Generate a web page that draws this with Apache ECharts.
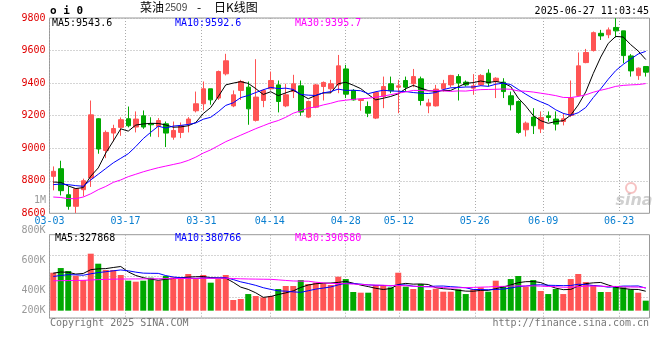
<!DOCTYPE html>
<html><head><meta charset="utf-8">
<script src="https://cdn.jsdelivr.net/npm/echarts@6/dist/echarts.min.js"></script>
<style>html,body{margin:0;padding:0;background:#fff}#c{width:660px;height:360px}</style>
</head><body><div id="c"></div>
<script>
const dates=['03-03','03-04','03-05','03-06','03-07','03-10','03-11','03-12','03-13','03-14','03-17','03-18','03-19','03-20','03-21','03-24','03-25','03-26','03-27','03-28','03-31','04-01','04-02','04-03','04-07','04-08','04-09','04-10','04-11','04-14','04-15','04-16','04-17','04-18','04-21','04-22','04-23','04-24','04-25','04-28','04-29','04-30','05-06','05-07','05-08','05-09','05-12','05-13','05-14','05-15','05-16','05-19','05-20','05-21','05-22','05-23','05-26','05-27','05-28','05-29','05-30','06-03','06-04','06-05','06-06','06-09','06-10','06-11','06-12','06-13','06-16','06-17','06-18','06-19','06-20','06-23','06-24','06-25','06-26','06-27'];
const dateLabels=['03-03','03-17','03-31','04-14','04-28','05-12','05-26','06-09','06-23'];

const opens=[8827,8874,8714,8643,8745,8817,9181,8986,9093,9128,9181,9130,9199,9150,9134,9150,9068,9097,9150,9230,9273,9365,9308,9457,9260,9355,9375,9171,9293,9365,9389,9260,9348,9383,9191,9252,9379,9365,9389,9487,9355,9293,9256,9185,9318,9396,9375,9416,9396,9426,9260,9260,9365,9389,9440,9406,9369,9389,9461,9410,9406,9322,9287,9113,9191,9119,9199,9179,9164,9201,9324,9526,9600,9706,9697,9742,9721,9567,9446,9502];
const closes=[8858,8739,8643,8751,8800,9205,8995,9097,9121,9175,9138,9179,9130,9144,9170,9093,9109,9138,9179,9273,9365,9297,9471,9537,9328,9410,9242,9314,9355,9416,9287,9328,9396,9222,9287,9389,9404,9396,9506,9332,9297,9300,9215,9342,9379,9353,9383,9375,9440,9293,9278,9363,9396,9447,9400,9389,9383,9447,9400,9430,9348,9267,9097,9154,9138,9189,9189,9148,9181,9308,9506,9588,9710,9690,9727,9721,9569,9475,9492,9467];
const highs=[8888,8923,8766,8755,8813,9293,9185,9109,9144,9189,9256,9226,9232,9190,9185,9164,9164,9158,9191,9348,9410,9365,9477,9580,9355,9420,9410,9547,9363,9471,9416,9396,9451,9416,9293,9396,9410,9420,9573,9512,9363,9305,9287,9348,9440,9440,9420,9440,9487,9440,9303,9389,9420,9451,9455,9416,9455,9455,9485,9436,9430,9348,9293,9164,9246,9226,9226,9226,9215,9416,9588,9610,9717,9727,9742,9799,9721,9578,9496,9502];
const lows=[8741,8710,8622,8602,8704,8762,8966,8939,9042,9076,9128,9097,9119,9071,9068,9007,9052,9062,9097,9220,9232,9267,9297,9447,9252,9297,9144,9164,9252,9359,9220,9252,9308,9199,9185,9246,9293,9338,9338,9308,9293,9230,9191,9179,9246,9338,9215,9348,9375,9263,9215,9256,9348,9375,9293,9379,9328,9383,9379,9308,9308,9232,9089,9072,9087,9093,9164,9109,9140,9191,9318,9522,9594,9665,9676,9680,9522,9440,9420,9440];

const ma5=[8792,8790,8768,8752,8758,8828,8879,8970,9044,9119,9105,9142,9149,9153,9152,9143,9129,9131,9138,9158,9213,9250,9317,9389,9400,9409,9398,9366,9330,9347,9323,9340,9356,9330,9304,9324,9340,9340,9396,9405,9387,9366,9330,9297,9307,9318,9334,9366,9386,9369,9354,9350,9354,9355,9377,9399,9403,9413,9404,9410,9402,9378,9308,9259,9201,9169,9153,9164,9169,9203,9266,9346,9459,9560,9644,9687,9683,9636,9597,9545];
const ma10=[8776,8780,8776,8770,8766,8805,8840,8875,8910,8938,8966,9010,9059,9098,9135,9124,9136,9140,9146,9155,9178,9190,9224,9263,9279,9311,9324,9342,9359,9374,9366,9369,9361,9330,9326,9324,9340,9348,9363,9355,9356,9353,9335,9347,9356,9352,9350,9348,9342,9338,9336,9342,9360,9371,9373,9376,9376,9384,9380,9393,9400,9391,9361,9332,9305,9285,9266,9236,9214,9202,9218,9250,9311,9365,9424,9477,9515,9548,9579,9595];
const ma30=[8700,8697,8690,8690,8700,8720,8745,8765,8790,8805,8825,8840,8855,8868,8880,8890,8900,8910,8925,8945,8970,8990,9015,9040,9060,9080,9100,9120,9138,9156,9170,9190,9215,9230,9247,9253,9266,9276,9289,9295,9300,9304,9307,9313,9320,9329,9338,9346,9355,9355,9352,9355,9352,9349,9352,9351,9356,9360,9361,9362,9364,9362,9352,9350,9345,9338,9331,9323,9312,9311,9318,9328,9344,9356,9367,9380,9386,9389,9391,9397];

// volumes in thousands of lots
const volumes=[648,728,677,597,523,973,802,694,694,609,512,495,512,563,512,592,569,569,626,540,609,478,540,609,182,199,284,250,227,250,370,421,421,523,455,478,466,438,580,540,319,307,307,438,438,398,648,410,370,455,353,375,324,324,364,284,364,398,324,512,421,540,592,410,523,336,284,370,284,540,626,489,438,319,319,421,398,364,307,171];
const volMa5=[640,660,655,625,635,700,714,718,737,754,662,601,564,538,519,535,550,561,574,579,583,564,559,555,484,402,363,305,228,242,276,304,338,397,438,460,469,472,483,500,469,437,411,382,362,378,446,466,453,456,447,393,375,366,348,334,332,347,347,376,404,439,478,495,497,480,429,385,359,363,421,462,475,482,438,397,379,364,362,332];
const volMa10=[585,600,615,612,605,630,650,665,680,695,681,658,641,638,637,599,575,563,556,549,559,557,560,564,531,492,464,432,392,363,339,333,321,313,340,368,386,405,440,469,464,453,441,433,431,423,441,439,418,409,412,419,421,410,402,391,362,361,357,362,369,386,412,421,437,442,434,431,427,430,451,445,430,421,401,409,420,420,422,385];
const volMa30=[510,512,514,516,518,524,530,534,538,540,541,542,543,544,545,547,548,549,551,552,554,553,553,554,549,544,541,539,537,535,526,516,507,505,503,486,475,466,463,460,454,448,441,437,434,428,430,425,417,414,405,402,395,385,391,394,397,402,405,413,415,419,425,421,423,419,413,410,400,400,411,417,421,417,413,414,406,404,402,392];

const priceTickLabels=['8600','8800','9000','9200','9400','9600','9800'];
const volTickLabels=['200K','400K','600K','800K'];

const RED='#ff5454', GREEN='#00a800';
const MONO='"DejaVu Sans Mono", monospace';
const CJK='"Noto Sans CJK SC", sans-serif';
const dotted={color:'#aaaaaa',width:1,type:[1,2]};
const showDate=(idx,val)=>dateLabels.indexOf(val)>=0;

const chart=echarts.init(document.getElementById('c'),null,{renderer:'canvas'});
const candleData=dates.map((d,i)=>[opens[i],closes[i],lows[i],highs[i]]);
const volData=volumes.map((v,i)=>({value:v,itemStyle:{color:closes[i]>=opens[i]?RED:GREEN}}));
const lineS=(name,data,color,xi,yi)=>({name,type:'line',data,xAxisIndex:xi,yAxisIndex:yi,symbol:'none',smooth:false,lineStyle:{color,width:1},itemStyle:{color},z:5,silent:true});

function t(text,x,y,opt){
  return {type:'text',x,y,silent:true,z:100,style:Object.assign({text,fill:'#000',font:'10px '+MONO,align:'left',verticalAlign:'middle'},opt||{})};
}

chart.setOption({
  animation:false,
  backgroundColor:'#ffffff',
  grid:[
    {left:49.5,top:18,width:600,height:195.3,show:true,borderColor:'#999',borderWidth:1,backgroundColor:'transparent'},
    {left:49.5,top:234.7,width:600,height:83.3,show:true,borderColor:'#999',borderWidth:1,backgroundColor:'transparent'},
    {left:49.5,top:230,width:600,height:91.2,show:false}
  ],
  xAxis:[
    {type:'category',gridIndex:0,data:dates,boundaryGap:true,show:false},
    {type:'category',gridIndex:0,data:dates,boundaryGap:false,position:'bottom',
      axisLine:{show:false},axisTick:{show:false},
      axisLabel:{interval:showDate,color:'#0a7fd0',fontFamily:MONO,fontSize:10,margin:3},
      splitLine:{show:true,interval:showDate,lineStyle:dotted}},
    {type:'category',gridIndex:1,data:dates,boundaryGap:true,show:false},
    {type:'category',gridIndex:1,data:dates,boundaryGap:false,position:'bottom',
      axisLine:{show:false},axisTick:{show:false},axisLabel:{show:false},
      splitLine:{show:true,interval:showDate,lineStyle:dotted}},
    {type:'category',gridIndex:2,data:dates,show:false}
  ],
  yAxis:[
    {type:'value',gridIndex:0,min:8600,max:9800,interval:200,
      axisLine:{show:false},axisTick:{show:false},
      axisLabel:{color:'#e00000',fontFamily:MONO,fontSize:10,margin:4,padding:[0,0,3,0],
        formatter:v=>priceTickLabels[Math.round((v-8600)/200)]},
      splitLine:{show:true,lineStyle:dotted}},
    {type:'value',gridIndex:1,min:-125,max:1297,show:false},
    {type:'value',gridIndex:1,min:0,max:4,interval:1,axisLine:{show:false},axisTick:{show:false},axisLabel:{show:false},splitLine:{show:true,lineStyle:dotted}},
    {type:'value',gridIndex:2,min:200,max:800,interval:200,axisLine:{show:false},axisTick:{show:false},splitLine:{show:false},
      axisLabel:{color:'#999',fontFamily:MONO,fontSize:10,margin:4,
        formatter:v=>{const i=Math.round((v-200)/200);return i===0?'{lift|'+volTickLabels[i]+'}':volTickLabels[i];},
        rich:{lift:{color:'#999',fontFamily:MONO,fontSize:10,padding:[0,0,21,0]}}}}
  ],
  series:[
    {name:'K',type:'candlestick',xAxisIndex:0,yAxisIndex:0,data:candleData,barWidth:5,
      itemStyle:{color:RED,color0:GREEN,borderColor:RED,borderColor0:GREEN,borderWidth:1},silent:true},
    lineS('MA5',ma5,'#000000',0,0),
    lineS('MA10',ma10,'#0000ff',0,0),
    lineS('MA30',ma30,'#ff00ff',0,0),
    {name:'VOL',type:'bar',xAxisIndex:2,yAxisIndex:1,data:volData,barWidth:6,silent:true},
    lineS('VMA5',volMa5,'#000000',2,1),
    lineS('VMA10',volMa10,'#0000ff',2,1),
    lineS('VMA30',volMa30,'#ff00ff',2,1)
  ],
  graphic:[
    t('o i 0',50,11,{font:'bold 11px '+MONO}),
    t('菜油',140,7.5,{font:'12px '+CJK}),
    t('2509',165,8,{font:'10px "Liberation Sans", sans-serif',fill:'#444'}),
    t('-',197,7.5,{font:'12px '+CJK}),
    t('日K线图',214,7.5,{font:'12px '+CJK}),
    t('2025-06-27 11:03:45',649,11.7,{align:'right'}),
    t('MA5:9543.6',52,23.5),
    t('MA10:9592.6',175,23.5,{fill:'#0000ff'}),
    t('MA30:9395.7',295,23.5,{fill:'#ff00ff'}),
    t('1M',46,200.7,{align:'right',fill:'#999'}),
    t('MA5:327868',55,238.3),
    t('MA10:380766',175,238.3,{fill:'#0000ff'}),
    t('MA30:390580',295,238.3,{fill:'#ff00ff'}),
    t('Copyright 2025 SINA.COM',50,323.3,{fill:'#777'}),
    t('http://finance.sina.com.cn',649,323.3,{align:'right',fill:'#777'}),
    {type:'circle',shape:{cx:631,cy:188,r:5},style:{fill:'none',stroke:'rgba(235,120,120,0.45)',lineWidth:2},silent:true,z:1},
    t('sina',634,201,{align:'center',font:'italic bold 16px "DejaVu Sans", sans-serif',fill:'rgba(150,150,150,0.45)'})
  ]
});
</script>
</body></html>
